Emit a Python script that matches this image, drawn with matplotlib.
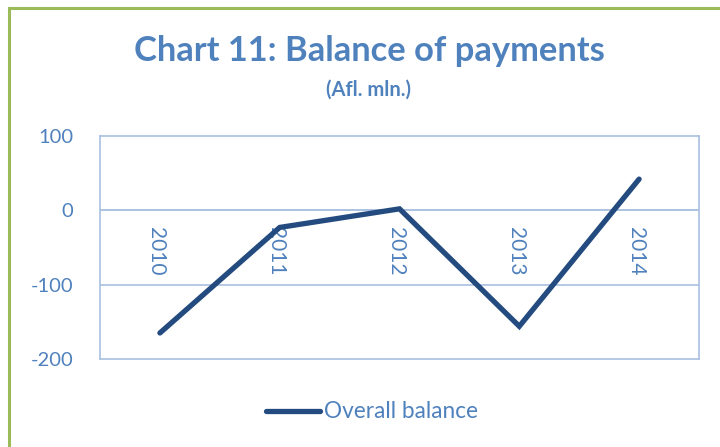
import matplotlib
matplotlib.use("Agg")
import matplotlib.pyplot as plt
from matplotlib.patches import Rectangle
from matplotlib.lines import Line2D

years = ["2010", "2011", "2012", "2013", "2014"]
overall_balance = [-165, -23, 2, -156, 42]
yticks = [100, 0, -100, -200]

txt = "#4F81BD"
line_c = "#234B7F"
grid_c = "#A9C0E0"

plt.rcParams['font.family'] = ['Lato', 'DejaVu Sans']

fig = plt.figure(figsize=(7.2, 4.47), dpi=100)
fig.patch.set_facecolor("white")
W, H = 720, 447

# chart border (green)
fig.add_artist(Rectangle((9/W, -0.1), 1.2, (H-8)/H + 0.1, transform=fig.transFigure,
                         fill=False, edgecolor="#9BBB59", linewidth=2.2))

ax = fig.add_axes([100/W, 1-359/H, 599/W, (359-136)/H])
x = list(range(len(years)))
ax.plot(x, overall_balance, color=line_c, linewidth=3.8, solid_capstyle="round",
        solid_joinstyle="miter", zorder=3)
ax.set_xlim(-0.5, len(years)-0.5)
ax.set_ylim(-200, 100)
ax.set_yticks(yticks)
ax.set_yticklabels([str(v) for v in yticks])
ax.tick_params(axis='y', length=0, pad=19, labelsize=14.5, labelcolor=txt)
ax.set_xticks([])
for v in [0, -100]:
    ax.axhline(v, color=grid_c if v else "#9DB8DD", linewidth=1.2, zorder=1)
for s in ax.spines.values():
    s.set_color(grid_c)
    s.set_linewidth(1.2)

for i, yr in enumerate(years):
    ax.text(i - 0.03, -22, yr, rotation=270, ha="center", va="top", color=txt,
            fontsize=15, zorder=2)

fig.text(369/W, 1-51/H, "Chart 11: Balance of payments", ha="center", va="center",
         fontsize=24.8, fontweight="bold", color=txt)
fig.text(369/W, 1-90/H, "(Afl. mln.)", ha="center", va="center",
         fontsize=14.5, fontweight="bold", color=txt)

# legend
fig.add_artist(Line2D([266/W, 320/W], [1-411/H, 1-411/H], transform=fig.transFigure,
                      color=line_c, linewidth=3.8, solid_capstyle="round"))
fig.text(324/W, 1-411/H, "Overall balance", ha="left", va="center",
         fontsize=16.3, color=txt)

fig.savefig("out.png", dpi=100)
